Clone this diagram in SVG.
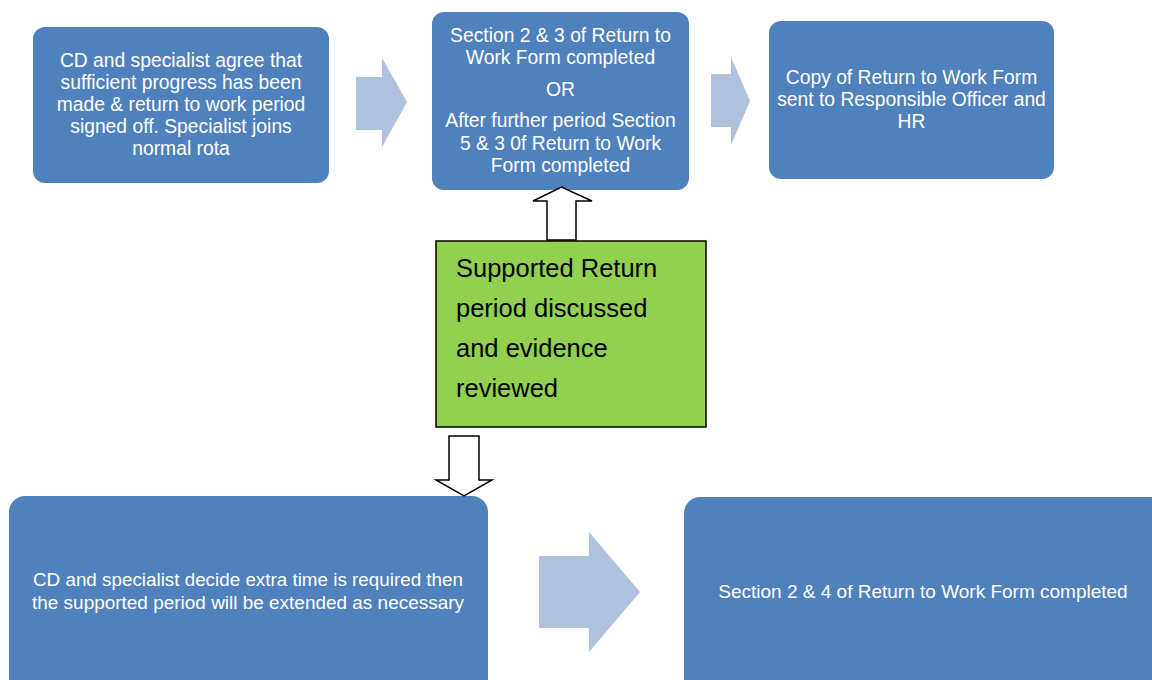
<svg xmlns="http://www.w3.org/2000/svg" width="1152" height="680" viewBox="0 0 1152 680">
<style>
.box{fill:#4f81bd;}
.t{font-family:"Liberation Sans",Arial,sans-serif;fill:#ffffff;text-anchor:middle;font-size:19.3px;}
.g{font-family:"Liberation Sans",Arial,sans-serif;fill:#000000;font-size:25.5px;}
.flow{fill:#b0c1dd;}
.hollow{fill:#ffffff;stroke:#000000;stroke-width:1.5;stroke-linejoin:miter;}
</style>
<rect width="1152" height="680" fill="#ffffff"/>
<g id="node-signed-off">
<rect class="box" x="33" y="27" width="296" height="156" rx="12"/>
<text class="t"><tspan x="181" y="67">CD and specialist agree that</tspan><tspan x="181" y="89">sufficient progress has been</tspan><tspan x="181" y="111">made &amp; return to work period</tspan><tspan x="181" y="133">signed off. Specialist joins</tspan><tspan x="181" y="155">normal rota</tspan></text>
</g>
<g id="node-sections-completed">
<rect class="box" x="432" y="12" width="257" height="178" rx="12"/>
<text class="t"><tspan x="560.5" y="42">Section 2 &amp; 3 of Return to</tspan><tspan x="560.5" y="64">Work Form completed</tspan><tspan x="560.5" y="96">OR</tspan><tspan x="560.5" y="127">After further period Section</tspan><tspan x="560.5" y="150">5 &amp; 3 0f Return to Work</tspan><tspan x="560.5" y="172">Form completed</tspan></text>
</g>
<g id="node-copy-sent">
<rect class="box" x="769" y="21" width="285" height="158" rx="12"/>
<text class="t"><tspan x="911.5" y="84">Copy of Return to Work Form</tspan><tspan x="911.5" y="106">sent to Responsible Officer and</tspan><tspan x="911.5" y="128">HR</tspan></text>
</g>
<g id="node-supported-return">
<rect x="436" y="241" width="270" height="186" fill="#92d050" stroke="#000000" stroke-width="1.5"/>
<text class="g"><tspan x="456" y="277">Supported Return</tspan><tspan x="456" y="317">period discussed</tspan><tspan x="456" y="357">and evidence</tspan><tspan x="456" y="397">reviewed</tspan></text>
</g>
<g id="node-extra-time">
<rect class="box" x="9" y="496" width="479" height="200" rx="16"/>
<text class="t" style="font-size:17.5px"><tspan x="248" y="586" textLength="430" lengthAdjust="spacingAndGlyphs">CD and specialist decide extra time is required then</tspan><tspan x="248" y="609" textLength="432" lengthAdjust="spacingAndGlyphs">the supported period will be extended as necessary</tspan></text>
</g>
<g id="node-section-2-4">
<rect class="box" x="684" y="497" width="490" height="200" rx="16"/>
<text class="t" style="font-size:19px"><tspan x="923" y="598">Section 2 &amp; 4 of Return to Work Form completed</tspan></text>
</g>
<g id="connectors">
<polygon class="flow" points="356,77 382,77 382,58 407,102 382,147 382,130 356,130"/>
<polygon class="flow" points="711,74 731,74 731,57 750,101 731,145 731,127 711,127"/>
<polygon class="flow" points="539,556 589,556 589,532 640,592 589,652 589,628 539,628"/>
<polygon class="hollow" points="547,240 547,201 533,201 561.5,187 592,201 576,201 576,240"/>
<polygon class="hollow" points="449,436 479,436 479,480 492,480 464,496 436,480 449,480"/>
</g>
</svg>
